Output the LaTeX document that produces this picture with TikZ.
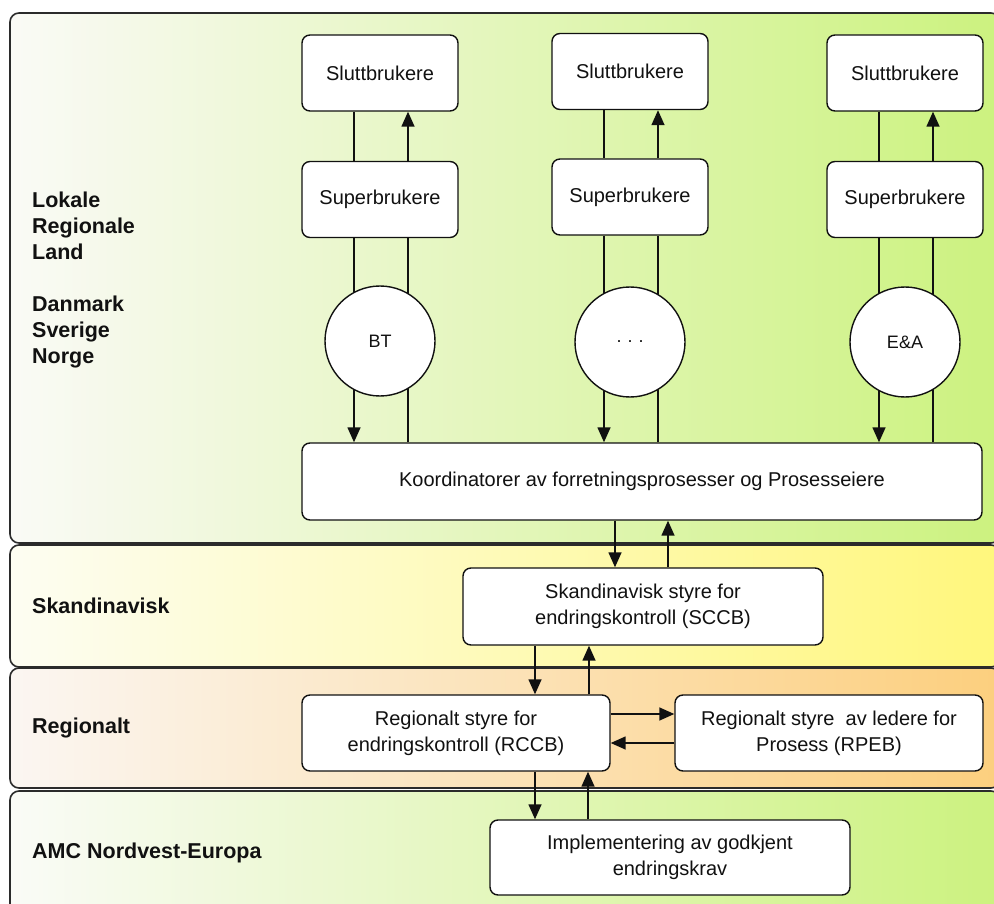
\documentclass[tikz,border=0pt]{standalone}
\usepackage{fontspec}
\setmainfont{Liberation Sans}
\usetikzlibrary{arrows.meta}

\pgfdeclarelayer{bands}
\pgfdeclarelayer{links}
\pgfsetlayers{bands,links,main}

\definecolor{ink}{HTML}{111111}
\definecolor{rim}{HTML}{2B2B2B}
\definecolor{lokalL}{HTML}{FAFAF6}
\definecolor{lokalR}{HTML}{CCF27F}
\definecolor{skandL}{HTML}{FDFDF2}
\definecolor{skandR}{HTML}{FFF77C}
\definecolor{regL}{HTML}{FBF6F2}
\definecolor{regR}{HTML}{FCCF7E}
\definecolor{amcL}{HTML}{FAFBF7}
\definecolor{amcR}{HTML}{CCF27F}

\tikzset{
  band/.style={draw=rim, line width=1.6pt, rounded corners=9pt},
  bandlabel/.style={anchor=west, align=left, text=ink, inner sep=0pt,
    font=\bfseries\fontsize{21.5}{26}\selectfont},
  box/.style={draw=ink, fill=white, rounded corners=8pt, line width=1.4pt,
    minimum width=#1, minimum height=76pt, inner sep=0pt, align=center,
    text=ink, font=\fontsize{20}{26}\selectfont},
  unit/.style={circle, draw=ink, fill=white, line width=1.4pt,
    minimum size=110pt, inner sep=0pt, text=ink, font=\fontsize{18}{20}\selectfont},
  link/.style={draw=ink, line width=1.5pt},
  arr/.style={link, -{Triangle[length=15pt,width=13pt]}},
}

\begin{document}
\begin{tikzpicture}[x=1pt, y=-1pt]
\useasboundingbox (0,0) rectangle (994,904);

% organisational levels as shaded bands
\begin{pgfonlayer}{bands}
  \fill[white] (0,0) rectangle (994,904);
  \clip (0,0) rectangle (994,904);
  \draw[band, left color=lokalL, right color=lokalR] (10,13) rectangle (1000,543);
  \draw[band, left color=skandL, right color=skandR] (10,545) rectangle (1000,667);
  \draw[band, left color=regL, right color=regR] (10,668) rectangle (1000,788);
  \draw[band, left color=amcL, right color=amcR] (10,791) rectangle (1000,930);
\end{pgfonlayer}

% level labels
\node[bandlabel] (lvlLokal) at (32,280)
  {Lokale\\Regionale\\Land\\[26pt]Danmark\\Sverige\\Norge};
\node[bandlabel] (lvlSkand) at (32,606) {Skandinavisk};
\node[bandlabel] (lvlReg) at (32,728) {Regionalt};
\node[bandlabel] (lvlAmc) at (32,853) {AMC Nordvest-Europa};

% local columns
\node[box=156pt] (slutt1) at (380,73) {Sluttbrukere};
\node[box=156pt] (slutt2) at (630,71.5) {Sluttbrukere};
\node[box=156pt] (slutt3) at (905,73) {Sluttbrukere};
\node[box=156pt] (super1) at (380,199.5) {Superbrukere};
\node[box=156pt] (super2) at (630,197) {Superbrukere};
\node[box=156pt] (super3) at (905,199.5) {Superbrukere};
\node[unit] (bt) at (380,341) {BT};
\node[unit] (dots) at (630,342) {.\,\,.\,\,.};
\node[unit] (ea) at (905,342) {E\&A};

% coordinating boards
\node[box=680pt, minimum height=77pt] (koord) at (642,481.5)
  {Koordinatorer av forretningsprosesser og Prosesseiere};
\node[box=360pt, minimum height=77pt] (sccb) at (643,606.5)
  {Skandinavisk styre for\\endringskontroll (SCCB)};
\node[box=308pt] (rccb) at (456,733)
  {Regionalt styre for\\endringskontroll (RCCB)};
\node[box=308pt] (rpeb) at (829,733)
  {Regionalt styre~ av ledere for\\Prosess (RPEB)};
\node[box=360pt, minimum height=75pt] (impl) at (670,857.5)
  {Implementering av godkjent\\endringskrav};

% connectors
\begin{pgfonlayer}{links}
  \foreach \c in {1,2,3}{
    \coordinate (dn\c) at ([xshift=-26pt]super\c.south);
    \coordinate (up\c) at ([xshift=28pt]super\c.south);
    \coordinate (dt\c) at ([xshift=-26pt]slutt\c.south);
    \coordinate (ut\c) at ([xshift=28pt]slutt\c.south);
    \draw[link] (dt\c) -- (dt\c |- super\c.north);
    \draw[arr] (ut\c |- super\c.north) -- (ut\c);
    \draw[arr] (dn\c) -- (dn\c |- koord.north);
    \draw[link] (up\c |- koord.north) -- (up\c);
  }
  \coordinate (kd) at ([xshift=-27pt]koord.south);
  \coordinate (ku) at ([xshift=26pt]koord.south);
  \draw[arr] (kd) -- (kd |- sccb.north);
  \draw[arr] (ku |- sccb.north) -- (ku);

  \coordinate (sd) at ([xshift=-108pt]sccb.south);
  \coordinate (su) at ([xshift=-54pt]sccb.south);
  \draw[arr] (sd) -- (sd |- rccb.north);
  \draw[arr] (su |- rccb.north) -- (su);

  \coordinate (rd) at ([xshift=79pt]rccb.south);
  \coordinate (ru) at ([xshift=132pt]rccb.south);
  \draw[arr] (rd) -- (rd |- impl.north);
  \draw[arr] (ru |- impl.north) -- (ru);

  \coordinate (rr) at ([yshift=19pt]rccb.east);
  \coordinate (rl) at ([yshift=-10pt]rccb.east);
  \draw[arr] (rr) -- (rr -| rpeb.west);
  \draw[arr] (rl -| rpeb.west) -- (rl);
\end{pgfonlayer}
\end{tikzpicture}
\end{document}
